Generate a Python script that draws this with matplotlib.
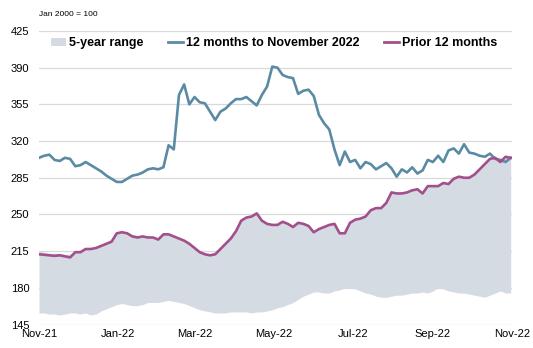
import pandas as pd
import numpy as np
from matplotlib import pyplot as plt
import matplotlib.dates as mdates
from matplotlib.patches import Patch
from matplotlib.lines import Line2D

plt.rcParams['font.family'] = ['Liberation Sans', 'DejaVu Sans']

#%% data (index, Jan 2000 = 100), sampled every 4 days from 1 Nov 2021
dates = pd.date_range('2021-11-01', periods=92, freq='4D')

current = [304, 306, 307, 302, 301, 304, 303, 296, 297, 300,
           297, 294, 291, 287, 284, 281, 281, 284, 287, 288,
           290, 293, 294, 293, 295, 316, 312, 364, 374, 355,
           362, 357, 356, 348, 340, 348, 351, 356, 360, 360,
           362, 358, 354, 364, 372, 391, 390, 383, 381, 380,
           365, 368, 369, 363, 345, 337, 331, 312, 297, 310,
           300, 302, 294, 300, 298, 293, 296, 299, 294, 286,
           293, 290, 295, 289, 292, 302, 300, 306, 300, 311,
           313, 308, 317, 309, 308, 306, 305, 308, 303, 302,
           300, 304]

prior = [212, 211.5, 211, 210.5, 211, 210, 209, 214, 214, 217,
         217, 218, 220, 222, 224, 232, 233, 232, 229, 228,
         229, 228, 228, 226, 231, 231, 229, 227, 225, 222,
         218, 214, 212, 211, 212, 217, 222, 227, 234, 244,
         247, 248, 251, 244, 241, 240, 240, 243, 241, 238,
         242, 241, 239, 233, 236, 238, 240, 241, 232, 232,
         242, 245, 246, 248, 254, 256, 256, 261, 271, 270,
         270, 271, 273, 274, 270, 277, 277, 277, 280, 279,
         284, 286, 285, 285, 288, 293, 298, 303, 304, 300,
         305, 304]

range_low = [156, 156, 155, 155, 154, 155, 156, 156, 155, 156,
             154, 155, 158, 160, 162, 164, 165, 164, 163, 163,
             164, 166, 166, 166, 167, 168, 167, 166, 165, 163,
             161, 159, 158, 157, 156, 156, 156, 157, 157, 157,
             157, 156, 157, 157, 158, 159, 161, 162, 164, 166,
             169, 172, 174, 176, 176, 175, 175, 177, 178, 180,
             180, 179, 177, 175, 174, 172, 171, 171, 172, 173,
             173, 174, 175, 175, 176, 175, 177, 180, 179, 177,
             176, 175, 175, 174, 173, 172, 171, 173, 175, 177,
             175, 175]

range_high = [215, 214, 213, 213, 213, 212, 212, 215, 216, 218,
              218, 219, 221, 223, 226, 233, 234, 233, 231, 230,
              230, 229, 229, 228, 232, 232, 230, 228, 226, 223,
              219, 215, 213, 212, 213, 218, 223, 228, 235, 245,
              248, 249, 252, 245, 242, 241, 241, 244, 242, 239,
              243, 242, 240, 234, 237, 239, 241, 242, 233, 233,
              243, 246, 247, 249, 255, 257, 257, 262, 272, 271,
              271, 272, 274, 275, 271, 278, 278, 278, 281, 280,
              285, 287, 286, 286, 289, 294, 299, 304, 305, 302,
              305, 305]

y_ticks = [145, 180, 215, 250, 285, 320, 355, 390, 425]

c_fill = '#d5dbe3'
c_cur = '#5b8ba4'
c_prior = '#a34f8c'

#%% plot
fig = plt.figure(figsize=(5.33, 3.48), dpi=100)
ax = fig.add_axes([0.0732, 0.0675, 0.8874, 0.8435])

ax.fill_between(dates, range_low, range_high, color=c_fill, lw=0)
ax.plot(dates, current, color=c_cur, lw=1.9)
ax.plot(dates, prior, color=c_prior, lw=1.9)

ax.set_xlim(pd.Timestamp('2021-11-01'), pd.Timestamp('2022-11-01'))
ax.set_ylim(145, 425)
ax.set_yticks(y_ticks)
ax.xaxis.set_major_locator(mdates.MonthLocator(bymonth=[1, 3, 5, 7, 9, 11]))
ax.xaxis.set_major_formatter(mdates.DateFormatter('%b-%y'))

ax.grid(axis='y', color='#d9d9d9', lw=0.9)
ax.set_axisbelow(True)
for s in ax.spines.values():
    s.set_visible(False)
ax.tick_params(axis='both', length=0, labelsize=8, colors='black')
ax.tick_params(axis='y', pad=7)
ax.tick_params(axis='x', pad=3)

fig.text(0.073, 0.957, 'Jan 2000 = 100', fontsize=6, va='center', ha='left')

handles = [Patch(facecolor=c_fill, edgecolor='none'),
           Line2D([], [], color=c_cur, lw=2),
           Line2D([], [], color=c_prior, lw=2)]
labels = ['5-year range', '12 months to November 2022', 'Prior 12 months']
fig.legend(handles, labels, ncol=3, loc='center', bbox_to_anchor=(0.514, 0.876),
           frameon=False, prop={'size': 9, 'weight': 'bold'},
           handlelength=1.2, handleheight=0.6, handletextpad=0.2, columnspacing=2.0,
           borderpad=0, borderaxespad=0)

fig.savefig('out.png', dpi=100)
